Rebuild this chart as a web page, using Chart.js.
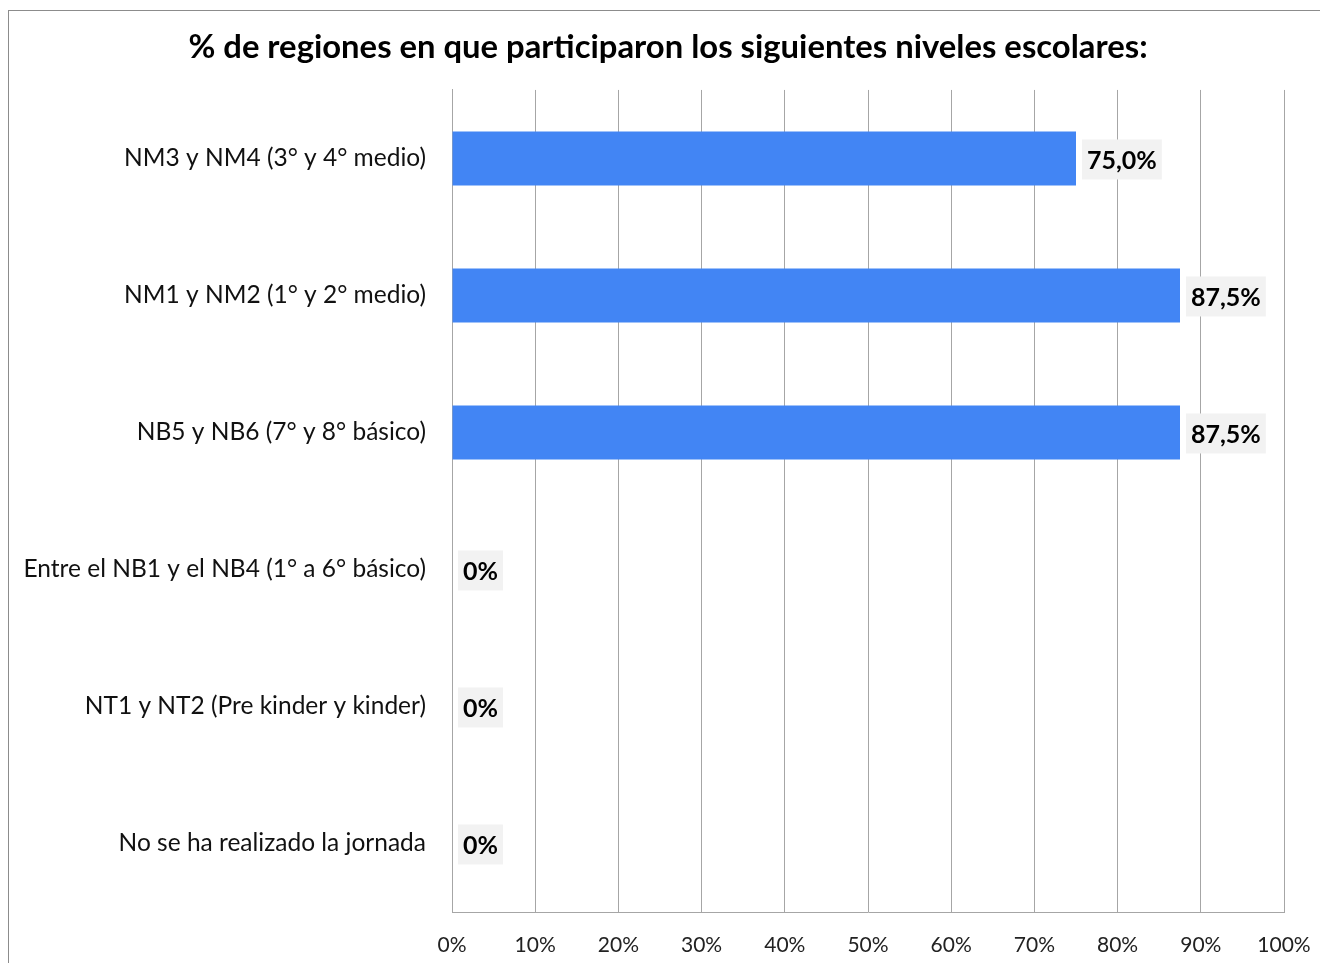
<!DOCTYPE html>
<html><head><meta charset="utf-8">
<script src="https://cdn.jsdelivr.net/npm/chart.js@4/dist/chart.umd.min.js"></script>
<style>
html,body{margin:0;padding:0;background:#fff;}
#wrap{position:relative;width:1320px;height:963px;overflow:hidden;}
#frame{position:absolute;left:8px;top:10px;width:1400px;height:1000px;border:1px solid #8c8c8c;box-sizing:border-box;}
canvas{position:absolute;left:0;top:0;}
</style></head>
<body><div id="wrap"><div id="frame"></div><canvas id="c" width="1320" height="963"></canvas></div>
<script>
const categories = [
  "NM3 y NM4 (3° y 4° medio)",
  "NM1 y NM2 (1° y 2° medio)",
  "NB5 y NB6 (7° y 8° básico)",
  "Entre el NB1 y el NB4 (1° a 6° básico)",
  "NT1 y NT2 (Pre kinder y kinder)",
  "No se ha realizado la jornada"
];
const values = [75.0, 87.5, 87.5, 0, 0, 0];
const valueLabels = ["75,0%", "87,5%", "87,5%", "0%", "0%", "0%"];
const chartTitle = "% de regiones en que participaron los siguientes niveles escolares:";
const FONT = "Lato, 'Liberation Sans', sans-serif";

const labelPlugin = {
  id: 'valueLabels',
  afterLayout(chart) {
    // centre the title over the framed chart box (frame starts at x=8)
    const t = chart.titleBlock;
    if (t) { t.left = 16; t.right = chart.width; }
  },
  afterDatasetsDraw(chart) {
    const ctx = chart.ctx;
    const meta = chart.getDatasetMeta(0);
    ctx.save();
    ctx.font = "bold 25px " + FONT;
    ctx.textBaseline = 'middle';
    meta.data.forEach((bar, i) => {
      const txt = valueLabels[i];
      const w = ctx.measureText(txt).width;
      const x0 = bar.x + 6;
      const y = bar.y + 1;
      ctx.fillStyle = '#f2f2f2';
      ctx.fillRect(x0, y - 20, w + 10, 40);
      ctx.fillStyle = '#000';
      ctx.textAlign = 'left';
      ctx.fillText(txt, x0 + 5, y + 1);
    });
    ctx.restore();
  }
};

new Chart(document.getElementById('c'), {
  type: 'bar',
  data: {
    labels: categories,
    datasets: [{
      data: values,
      backgroundColor: '#4285f4',
      borderWidth: 0,
      barPercentage: 0.395,
      categoryPercentage: 1
    }]
  },
  options: {
    indexAxis: 'y',
    responsive: false,
    animation: false,
    layout: { padding: { left: 0, right: 36, top: 0, bottom: 0 } },
    plugins: {
      legend: { display: false },
      tooltip: { enabled: false },
      title: {
        display: true,
        text: chartTitle,
        color: '#000',
        font: { family: FONT, size: 32.8, weight: 'bold', lineHeight: 1.2 },
        padding: { top: 28, bottom: 22.6 }
      }
    },
    scales: {
      x: {
        min: 0, max: 100,
        ticks: {
          stepSize: 10,
          color: '#222',
          font: { family: FONT, size: 21 },
          padding: 21,
          maxRotation: 0,
          callback: v => v + '%'
        },
        grid: { color: '#a6a6a6', lineWidth: 1, drawTicks: false },
        border: { color: '#a6a6a6' },
        afterFit: s => { s.height = 51; s.paddingRight = 0; s.paddingLeft = 0; }
      },
      y: {
        ticks: {
          color: '#111',
          font: { family: FONT, size: 24.5 },
          padding: 26
        },
        grid: { display: false, drawTicks: false },
        border: { color: '#a6a6a6' },
        afterFit: s => { s.width = 452; }
      }
    }
  },
  plugins: [labelPlugin]
});
</script></body></html>
